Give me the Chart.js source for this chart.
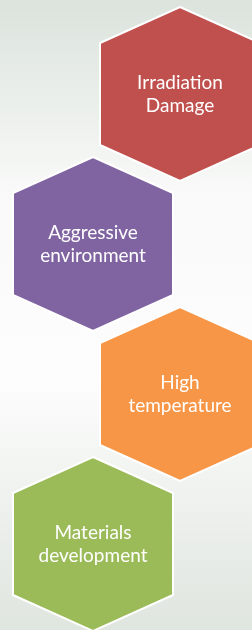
<!DOCTYPE html>
<html>
<head>
<meta charset="utf-8">
<script src="https://cdn.jsdelivr.net/npm/chart.js@4"></script>
<style>
  html, body { margin: 0; padding: 0; background: #fff; }
  canvas { display: block; }
</style>
</head>
<body>
<canvas id="hexChart" width="252" height="630"></canvas>
<script>
/* Données du diagramme */
const labels = [
  ['Irradiation', 'Damage'],
  ['Aggressive', 'environment'],
  ['High', 'temperature'],
  ['Materials', 'development']
];
const columns = [1, 0, 1, 0];
const rows = [0, 1, 2, 3];
const colors = ['#c0504d', '#8064a2', '#f79646', '#9bbb59'];

/* fond dégradé */
const backgroundPlugin = {
  id: 'background',
  beforeDraw(chart) {
    const { ctx, width, height } = chart;
    const g = ctx.createLinearGradient(0, 0, 0, height);
    g.addColorStop(0, '#dbe3dc');
    g.addColorStop(0.3, '#f8f9f8');
    g.addColorStop(0.6, '#fdfdfd');
    g.addColorStop(1, '#dfe5df');
    ctx.save();
    ctx.fillStyle = g;
    ctx.fillRect(0, 0, width, height);
    ctx.restore();
  }
};

/* hexagones + texte sur chaque point */
const hexPlugin = {
  id: 'hexagons',
  afterDatasetsDraw(chart) {
    const { ctx } = chart;
    const meta = chart.getDatasetMeta(0);
    const hw = 80, hh = 87, sh = 51;
    meta.data.forEach((pt, i) => {
      const x = pt.x, y = pt.y;
      ctx.save();
      ctx.beginPath();
      ctx.moveTo(x, y - hh);
      ctx.lineTo(x + hw, y - sh);
      ctx.lineTo(x + hw, y + sh);
      ctx.lineTo(x, y + hh);
      ctx.lineTo(x - hw, y + sh);
      ctx.lineTo(x - hw, y - sh);
      ctx.closePath();
      ctx.fillStyle = colors[i];
      ctx.fill();
      ctx.lineWidth = 2;
      ctx.strokeStyle = '#ffffff';
      ctx.stroke();

      ctx.fillStyle = '#ffffff';
      ctx.font = '19px Lato';
      ctx.textAlign = 'center';
      ctx.textBaseline = 'alphabetic';
      const lines = labels[i];
      ctx.fillText(lines[0], x, y - 5);
      ctx.fillText(lines[1], x, y + 18);
      ctx.restore();
    });
  }
};

new Chart(document.getElementById('hexChart'), {
  type: 'scatter',
  data: {
    datasets: [{
      data: columns.map((c, i) => ({ x: c, y: rows[i] })),
      pointRadius: 0,
      pointHoverRadius: 0
    }]
  },
  options: {
    responsive: false,
    animation: false,
    layout: { padding: 0 },
    plugins: { legend: { display: false }, tooltip: { enabled: false } },
    scales: {
      x: { type: 'linear', display: false, min: -93 / 87, max: -93 / 87 + 252 / 87 },
      y: { type: 'linear', display: false, reverse: true, min: -94 / 150, max: -94 / 150 + 630 / 150 }
    }
  },
  plugins: [backgroundPlugin, hexPlugin]
});
</script>
</body>
</html>
